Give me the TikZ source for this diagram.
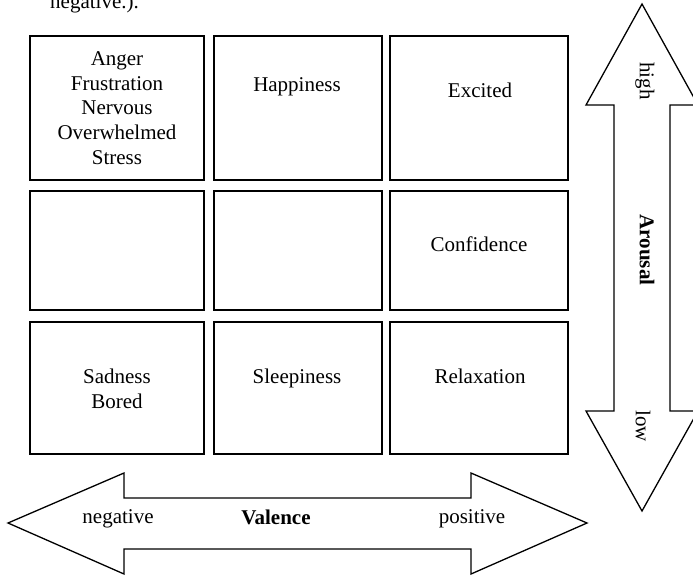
\documentclass[tikz,border=0pt]{standalone}
\usepackage{fontspec}
\setmainfont{Liberation Serif}
\tikzset{
  cell/.style={draw, line width=1.3pt, inner sep=0pt},
  lbl/.style={font=\fontsize{21}{24.6}\selectfont, align=center, inner sep=0pt},
  bigarrow/.style={draw, line width=1.3pt, fill=white, line join=miter}
}
\begin{document}
\begin{tikzpicture}[x=1pt, y=-1pt]
	\useasboundingbox (0,0) rectangle (693,576);
	% cut-off text above the grid
	\node[lbl, anchor=base west] (top) at (50,8) {negative.).};
	
	% grid of cells
	\node[cell, minimum width=174, minimum height=144] (c11) at (117,108) {};
	\node[cell, minimum width=168, minimum height=144] (c12) at (298,108) {};
	\node[cell, minimum width=178, minimum height=144] (c13) at (479,108) {};
	\node[cell, minimum width=174, minimum height=119] (c21) at (117,250.5) {};
	\node[cell, minimum width=168, minimum height=119] (c22) at (298,250.5) {};
	\node[cell, minimum width=178, minimum height=119] (c23) at (479,250.5) {};
	\node[cell, minimum width=174, minimum height=132] (c31) at (117,388) {};
	\node[cell, minimum width=168, minimum height=132] (c32) at (298,388) {};
	\node[cell, minimum width=178, minimum height=132] (c33) at (479,388) {};
	
	\node[lbl] (t11) at (117,108) {Anger\\Frustration\\Nervous\\Overwhelmed\\Stress};
	\node[lbl, anchor=base] (t12) at (297,91) {Happiness};
	\node[lbl, anchor=base] (t13) at (480,97) {Excited};
	\node[lbl, anchor=base] (t23) at (479,251) {Confidence};
	\node[lbl, anchor=base] (t31a) at (117,383) {Sadness};
	\node[lbl, anchor=base] (t31b) at (117,408) {Bored};
	\node[lbl, anchor=base] (t32) at (297,383) {Sleepiness};
	\node[lbl, anchor=base] (t33) at (480,383) {Relaxation};
	
	% arousal axis
	\draw[bigarrow] (642,4) -- (698,105) -- (670,105) -- (670,411) -- (698,411) -- (642,511)
		-- (586,411) -- (614,411) -- (614,105) -- (586,105) -- cycle;
	\node[lbl, rotate=-90] (high) at (645,81) {high};
	\node[lbl, rotate=-90, font=\fontsize{21}{24.6}\selectfont\bfseries] (arousal) at (647,250) {Arousal};
	\node[lbl, rotate=-90] (low) at (643,426) {low};
	
	% valence axis
	\draw[bigarrow] (8,523) -- (124,473) -- (124,498) -- (471,498) -- (471,473) -- (587,523)
		-- (471,574) -- (471,549) -- (124,549) -- (124,574) -- cycle;
	\node[lbl, anchor=base] (neg) at (118,523) {negative};
	\node[lbl, anchor=base, font=\fontsize{21}{24.6}\selectfont\bfseries] (valence) at (276,524) {Valence};
	\node[lbl, anchor=base] (pos) at (472,523) {positive};
\end{tikzpicture}
\end{document}
